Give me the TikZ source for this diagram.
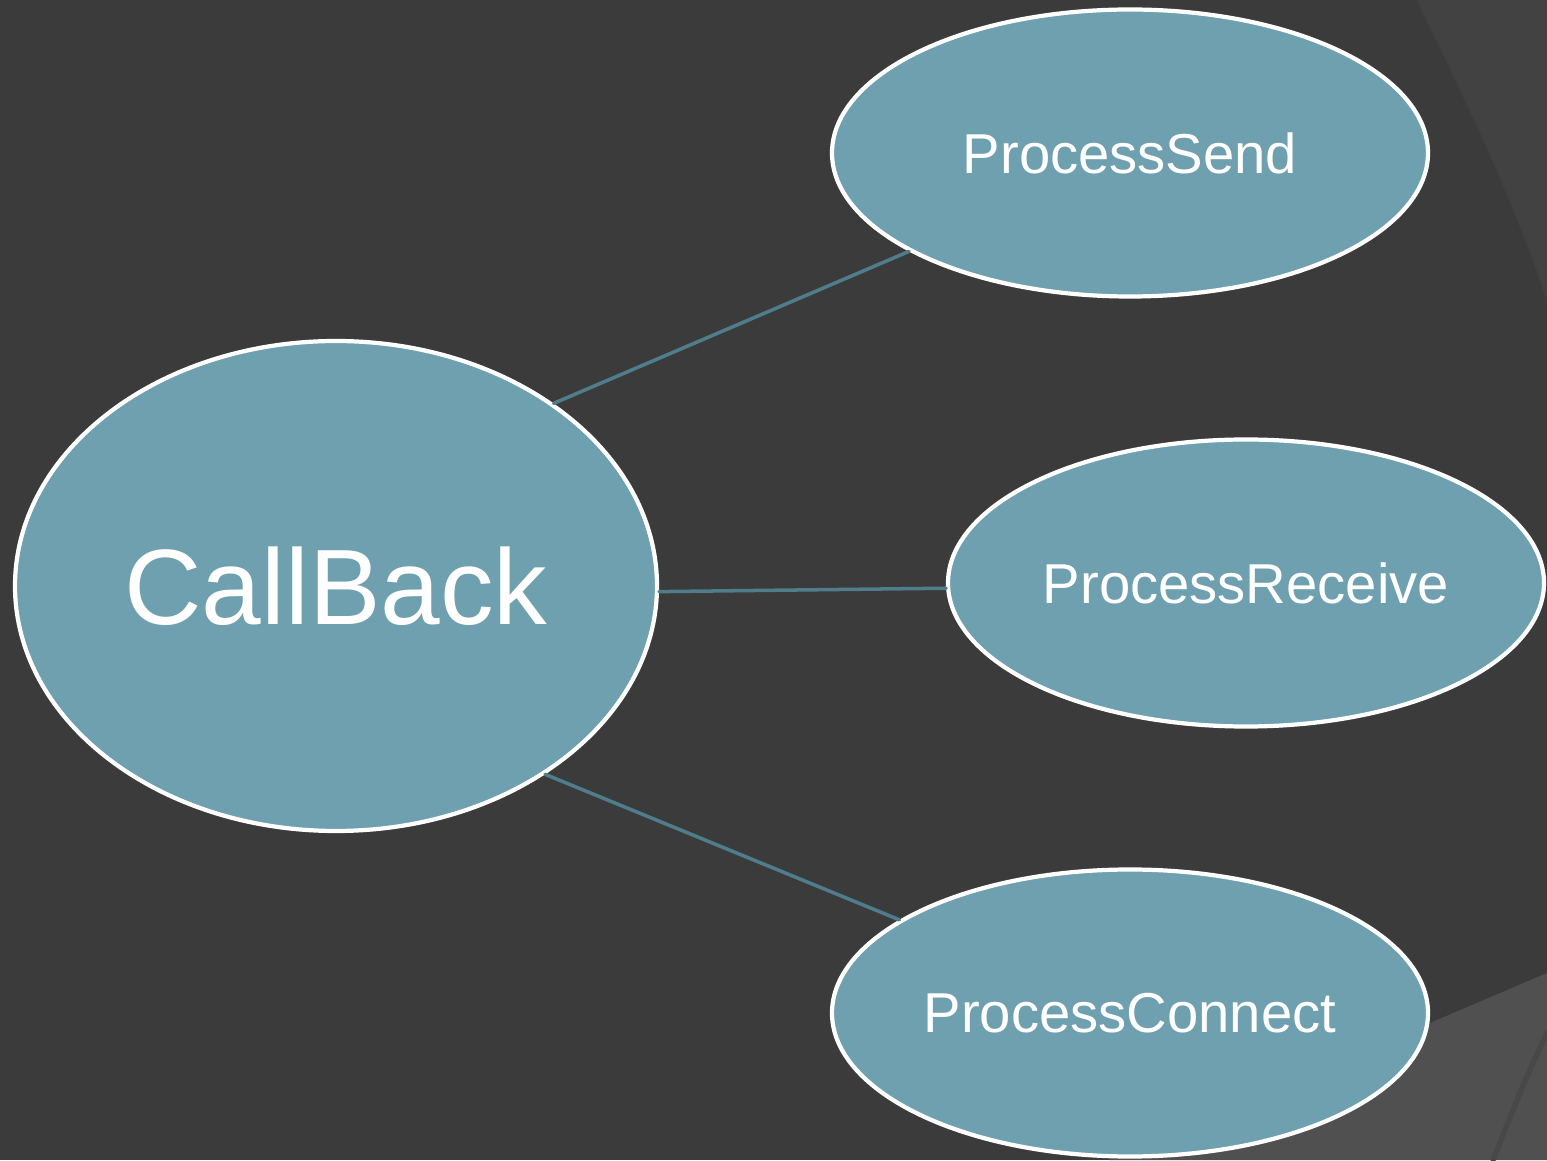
\documentclass[tikz,border=0pt]{standalone}
\usepackage{fontspec}
\setmainfont{Liberation Sans}
\usetikzlibrary{shapes.geometric}
\definecolor{bgdark}{HTML}{3B3B3B}
\definecolor{bgband}{HTML}{424242}
\definecolor{bglight}{HTML}{505050}
\definecolor{bgshade}{HTML}{484848}
\definecolor{bubble}{HTML}{6FA0B0}
\definecolor{linkcol}{HTML}{4F7D8C}
\begin{document}
\begin{tikzpicture}[line join=round, line cap=round]
			\tikzset{bubble/.style={ellipse,draw=white,line width=1.2pt,fill=bubble,inner sep=0pt,text=white,minimum width=5.96cm,minimum height=2.87cm,font=\fontsize{16}{18}\selectfont},
				link/.style={draw=linkcol,line width=1pt}}
			\useasboundingbox (0,0) rectangle (15.47,11.60);
			% background of the slide
			\fill[bgdark] (0,0) rectangle (15.47,11.60);
			\fill[bgband] (14.17,11.60) .. controls (14.70,10.50) and (15.10,9.70) .. (15.47,8.60) -- (15.47,11.60) -- cycle;
			\draw[black!75,thin] (14.17,11.60) .. controls (14.70,10.50) and (15.10,9.70) .. (15.47,8.60);
			\fill[bglight] (11.09,0) -- (15.47,1.87) -- (15.47,0) -- cycle;
			\draw[bgshade,line width=1.5pt] (15.47,1.27) .. controls (15.25,0.80) .. (14.93,0);
			% nodes
			\node[bubble,minimum width=6.42cm,minimum height=4.90cm,font=\fontsize{30.5}{34}\selectfont] (callback) at (3.36,5.74) {CallBack};
			\node[bubble] (send) at (11.30,10.07) {ProcessSend};
			\node[bubble] (receive) at (12.46,5.77) {ProcessReceive};
			\node[bubble] (connect) at (11.30,1.47) {ProcessConnect};
			% connectors
			\foreach \a/\n/\b in {40/send/204,-1/receive/181.5,-42/connect/158}
			\path[link] (callback.\a)--(\n.\b);
		\end{tikzpicture}
\end{document}
